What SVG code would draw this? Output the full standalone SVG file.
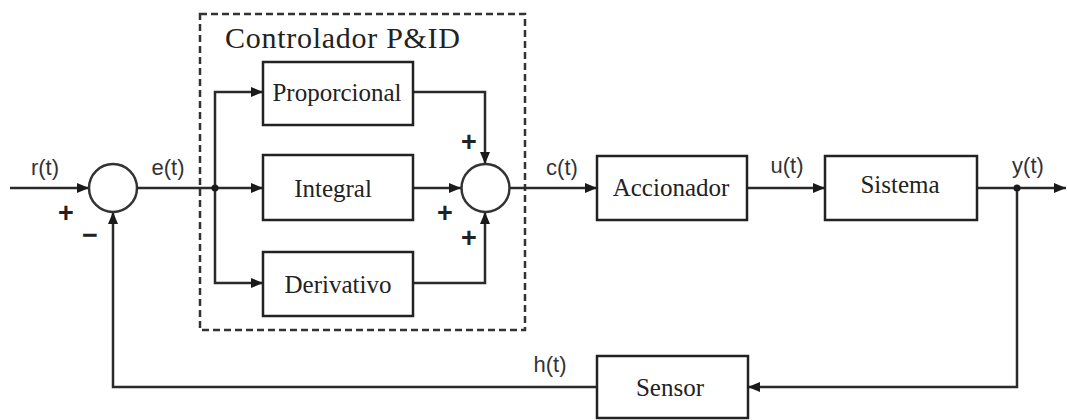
<svg xmlns="http://www.w3.org/2000/svg" width="1067" height="420" viewBox="0 0 1067 420">
<style>
.box{fill:#fff;stroke:#222;stroke-width:2.5}
.sum{fill:#fff;stroke:#333;stroke-width:2.5}
.ln{fill:none;stroke:#2a2a2a;stroke-width:2.5}
.bt{font-family:"Liberation Serif",serif;font-size:25px;fill:#222;text-anchor:middle}
.sg{font-family:"Liberation Sans",Arial,sans-serif;font-size:22px;fill:#333;text-anchor:middle}
.pm{font-family:"Liberation Sans",Arial,sans-serif;font-size:27px;font-weight:bold;fill:#222;text-anchor:middle}
</style>
<defs>
<marker id="ah" viewBox="0 0 12 10" refX="12" refY="5" markerWidth="12" markerHeight="10" markerUnits="userSpaceOnUse" orient="auto">
<path d="M0,0 L12,5 L0,10 Z" fill="#1a1a1a"/>
</marker>
</defs>
<rect width="1067" height="420" fill="#fff"/>
<g id="controller-frame">
<rect x="200" y="14" width="325" height="316" fill="none" stroke="#333" stroke-width="2.5" stroke-dasharray="7,4"/>
<text x="225" y="48" font-family="Liberation Serif,serif" font-size="30" fill="#222" textLength="235">Controlador P&amp;ID</text>
</g>
<g id="connectors">
<path class="ln" d="M10,188 H89" marker-end="url(#ah)"/>
<path class="ln" d="M137,188 H263" marker-end="url(#ah)"/>
<path class="ln" d="M215,188 V92 H263" marker-end="url(#ah)"/>
<path class="ln" d="M215,188 V283 H263" marker-end="url(#ah)"/>
<path class="ln" d="M413,92 H485 V164" marker-end="url(#ah)"/>
<path class="ln" d="M413,188 H461" marker-end="url(#ah)"/>
<path class="ln" d="M413,283 H485 V212" marker-end="url(#ah)"/>
<path class="ln" d="M510,188 H597" marker-end="url(#ah)"/>
<path class="ln" d="M747,188 H825" marker-end="url(#ah)"/>
<path class="ln" d="M977,188 H1066" marker-end="url(#ah)"/>
<path class="ln" d="M1017,188 V387 H748" marker-end="url(#ah)"/>
<path class="ln" d="M597,387 H113 V212" marker-end="url(#ah)"/>
<circle cx="215" cy="188" r="3.5" fill="#1a1a1a"/>
<circle cx="1017" cy="188" r="3.5" fill="#1a1a1a"/>
</g>
<g id="sum1">
<circle class="sum" cx="113" cy="188" r="24"/>
<text class="pm" x="66" y="222">+</text>
<text class="pm" x="90" y="244">−</text>
</g>
<g id="sum2">
<circle class="sum" cx="485.5" cy="188" r="24"/>
<text class="pm" x="469" y="151">+</text>
<text class="pm" x="445" y="222">+</text>
<text class="pm" x="469" y="247">+</text>
</g>
<g id="proporcional">
<rect class="box" x="263" y="62" width="150" height="63"/>
<text class="bt" x="337" y="101">Proporcional</text>
</g>
<g id="integral">
<rect class="box" x="263" y="155" width="150" height="65"/>
<text class="bt" x="333" y="197">Integral</text>
</g>
<g id="derivativo">
<rect class="box" x="263" y="252" width="150" height="64"/>
<text class="bt" x="338" y="293">Derivativo</text>
</g>
<g id="accionador">
<rect class="box" x="597" y="156" width="150" height="64"/>
<text class="bt" x="671" y="196">Accionador</text>
</g>
<g id="sistema">
<rect class="box" x="825" y="156" width="152" height="64"/>
<text class="bt" x="900" y="193">Sistema</text>
</g>
<g id="sensor">
<rect class="box" x="597" y="356" width="151" height="62"/>
<text class="bt" x="670" y="396">Sensor</text>
</g>
<g id="signals">
<text class="sg" x="45" y="175">r(t)</text>
<text class="sg" x="168" y="175">e(t)</text>
<text class="sg" x="562" y="175">c(t)</text>
<text class="sg" x="787" y="173">u(t)</text>
<text class="sg" x="1028" y="173">y(t)</text>
<text class="sg" x="550" y="372">h(t)</text>
</g>
</svg>
